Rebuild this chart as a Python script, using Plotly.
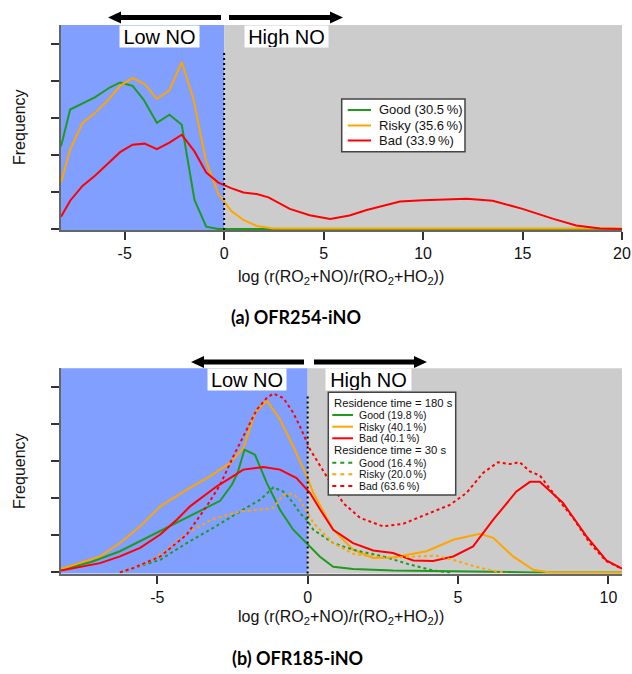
import plotly.graph_objects as go

W, H = 632, 674

# ---------------- data ----------------
# (a) OFR254-iNO
a_good_x = [-8.2, -7.74, -6.5, -5.73, -5.23, -4.6, -4.05, -3.38, -2.75, -2.13, -1.49, -0.9, -0.3, 2.5, 20]
a_good_y = [2.22, 3.22, 3.55, 3.82, 3.95, 3.86, 3.49, 2.86, 3.08, 2.81, 0.78, 0.06, 0.0, 0.0, 0.0]
a_risky_x = [-8.2, -7.74, -7.12, -6.48, -5.81, -5.23, -4.6, -4.0, -3.38, -2.75, -2.13, -1.54, -0.92, -0.29,
             0.35, 0.97, 1.64, 2.46, 20]
a_risky_y = [1.25, 2.14, 2.86, 3.13, 3.49, 3.86, 4.07, 3.91, 3.51, 3.74, 4.5, 3.5, 1.85, 0.94,
             0.49, 0.24, 0.08, 0.01, 0.01]
a_bad_x = [-8.2, -7.74, -7.12, -6.48, -5.81, -5.23, -4.6, -4.0, -3.38, -2.75, -2.13, -1.49, -0.9, -0.29,
           0.35, 0.97, 1.64, 2.23, 3.3, 4.3, 5.33, 6.3, 7.17, 8.84, 10.0, 12.2, 13.5, 15.0, 16.55, 17.7, 18.9, 20]
a_bad_y = [0.33, 0.76, 1.16, 1.44, 1.78, 2.07, 2.27, 2.3, 2.15, 2.33, 2.54, 2.09, 1.52, 1.25,
           1.1, 0.98, 0.94, 0.85, 0.54, 0.37, 0.27, 0.36, 0.51, 0.74, 0.77, 0.81, 0.76, 0.54, 0.27, 0.09, 0.01, 0.0]
a_names = ["Good (30.5\u2009%)", "Risky (35.6\u2009%)", "Bad (33.9\u2009%)"]

# (b) OFR185-iNO, residence time = 180 s (solid)
b180_good_x = [-8.2, -7.2, -6.24, -5.35, -4.47, -4.02, -2.91, -2.52, -2.33, -2.1, -1.75, -1.36, -0.92, -0.48,
               -0.03, 0.41, 0.85, 1.51, 2.84, 4.84, 7.5, 10.45]
b180_good_y = [0.07, 0.28, 0.57, 0.93, 1.29, 1.48, 1.93, 2.36, 2.68, 3.31, 3.17, 2.41, 1.69, 1.15,
               0.79, 0.42, 0.15, 0.09, 0.05, 0.03, 0.0, 0.0]
b180_risky_x = [-8.2, -6.9, -6.24, -5.57, -4.9, -4.02, -3.25, -2.58, -2.14, -1.75, -1.36, -0.92, -0.48, -0.03,
                0.19, 0.85, 1.51, 2.18, 2.84, 3.95, 4.84, 5.72, 6.17, 6.83, 7.5, 8.05, 10.45]
b180_risky_y = [0.09, 0.43, 0.79, 1.24, 1.78, 2.23, 2.59, 2.95, 3.35, 4.3, 4.63, 4.12, 3.4, 2.59,
                2.14, 1.15, 0.61, 0.39, 0.4, 0.57, 0.88, 1.04, 0.93, 0.43, 0.07, 0.0, 0.0]
b180_bad_x = [-8.2, -6.9, -6.24, -5.57, -4.9, -4.35, -3.91, -3.02, -2.58, -2.14, -1.47, -0.92, -0.37, 0.08,
              0.41, 0.85, 1.51, 2.18, 2.84, 3.51, 4.17, 4.84, 5.5, 6.17, 6.94, 7.39, 7.72, 8.49, 9.27, 9.93, 10.45]
b180_bad_y = [0.05, 0.25, 0.43, 0.66, 1.02, 1.42, 1.78, 2.32, 2.54, 2.77, 2.84, 2.77, 2.54, 2.14,
              1.7, 1.15, 0.79, 0.59, 0.52, 0.32, 0.31, 0.43, 0.7, 1.42, 2.18, 2.44, 2.44, 1.87, 0.97, 0.32, 0.1]

# (b) residence time = 30 s (dotted)
b30_good_x = [-6.24, -4.9, -4.02, -3.14, -2.25, -1.58, -1.14, -0.81, -0.48, -0.26, -0.03, 0.19, 0.85, 1.51,
              2.51, 3.4, 4.17, 4.73]
b30_good_y = [0.0, 0.34, 0.79, 1.2, 1.64, 1.96, 2.29, 2.18, 1.87, 1.6, 1.42, 1.15, 0.79, 0.61,
              0.43, 0.21, 0.05, 0.0]
b30_risky_x = [-6.24, -5.35, -4.68, -4.02, -3.14, -2.25, -1.58, -1.14, -0.81, -0.48, -0.26, 0.19, 0.85, 1.51,
               2.51, 3.4, 4.28, 4.95, 5.61, 6.28, 6.6]
b30_risky_y = [0.0, 0.25, 0.61, 1.06, 1.44, 1.64, 1.69, 1.74, 2.09, 2.12, 1.96, 1.33, 0.79, 0.5,
               0.39, 0.43, 0.45, 0.31, 0.15, 0.02, 0.0]
b30_bad_x = [-6.24, -5.79, -4.9, -4.02, -3.36, -2.91, -2.47, -2.03, -1.69, -1.36, -1.14, -0.81, -0.48, -0.26,
             0.08, 0.63, 1.18, 1.74, 2.51, 3.18, 3.95, 4.73, 5.28, 5.83, 6.33, 6.72, 7.05, 7.39, 7.72, 8.16,
             8.82, 9.38, 9.93, 10.45]
b30_bad_y = [0.0, 0.12, 0.43, 1.02, 1.78, 2.36, 3.13, 3.85, 4.39, 4.7, 4.82, 4.7, 4.3, 3.94,
             3.31, 2.59, 1.87, 1.47, 1.24, 1.31, 1.56, 1.82, 2.14, 2.68, 2.97, 2.92, 2.97, 2.72, 2.61, 2.14,
             1.47, 0.79, 0.3, 0.1]
b180_names = ["Good (19.8\u2009%)", "Risky (40.1\u2009%)", "Bad (40.1\u2009%)"]
b30_names = ["Good (16.4\u2009%)", "Risky (20.0\u2009%)", "Bad (63.6\u2009%)"]
b_group_titles = ["Residence time = 180 s", "Residence time = 30 s"]
captions = ["(a) OFR254-iNO", "(b) OFR185-iNO"]

a_xticks = [-5, 0, 5, 10, 15, 20]
b_xticks = [-5, 0, 5, 10]
tick_text = lambda v: [("-" + str(-t)) if t < 0 else str(t) for t in v]
y_ticks = [0, 1, 2, 3, 4, 5]

a_xrange = [-8.2, 20]
b_xrange = [-8.2, 10.45]
y_range = [-0.03, 5.5]

colors = ["#1f9a1f", "#ffa500", "#ff0000"]
BLUE = "#809fff"
GRAY = "#cccccc"
FONT = "Liberation Sans"

# ---------------- helpers ----------------
def px(x):
    return x / W

def py(y):
    return 1 - y / H

fig = go.Figure()

# top traces
for xs, ys, c in zip([a_good_x, a_risky_x, a_bad_x], [a_good_y, a_risky_y, a_bad_y], colors):
    fig.add_trace(go.Scatter(x=xs, y=ys, mode="lines", line=dict(color=c, width=2),
                             xaxis="x", yaxis="y", showlegend=False, hoverinfo="skip"))
# bottom traces
for xs, ys, c in zip([b180_good_x, b180_risky_x, b180_bad_x], [b180_good_y, b180_risky_y, b180_bad_y], colors):
    fig.add_trace(go.Scatter(x=xs, y=ys, mode="lines", line=dict(color=c, width=2),
                             xaxis="x2", yaxis="y2", showlegend=False, hoverinfo="skip"))
for xs, ys, c in zip([b30_good_x, b30_risky_x, b30_bad_x], [b30_good_y, b30_risky_y, b30_bad_y], colors):
    fig.add_trace(go.Scatter(x=xs, y=ys, mode="lines", line=dict(color=c, width=2, dash="3px,3px"),
                             xaxis="x2", yaxis="y2", showlegend=False, hoverinfo="skip"))

axis_font = dict(family=FONT, size=16, color="#111")
common_x = dict(showline=True, linecolor="#666", linewidth=2, ticks="outside", ticklen=8, tickwidth=1.5,
                tickcolor="#333", showgrid=False, zeroline=False, tickfont=axis_font, automargin=False)
common_y = dict(showline=True, linecolor="#666", linewidth=2, ticks="outside", ticklen=8, tickwidth=1.5,
                tickcolor="#333", showgrid=False, zeroline=False, showticklabels=False, automargin=False,
                range=y_range, tickvals=y_ticks)

top_dom = [py(230), py(25)]
bot_dom = [py(573.5), py(368.3)]
xdom = [px(61), px(622)]

fig.update_layout(
    width=W, height=H, margin=dict(l=0, r=0, t=0, b=0),
    paper_bgcolor="white", plot_bgcolor="white",
    font=dict(family=FONT, size=13, color="#111"),
    xaxis=dict(domain=xdom, range=a_xrange, tickvals=a_xticks, ticktext=tick_text(a_xticks),
               anchor="y", **common_x),
    yaxis=dict(domain=top_dom, anchor="x", **common_y),
    xaxis2=dict(domain=xdom, range=b_xrange, tickvals=b_xticks, ticktext=tick_text(b_xticks),
                anchor="y2", **common_x),
    yaxis2=dict(domain=bot_dom, anchor="x2", **common_y),
    showlegend=False,
)

shapes = []
annots = []

# background regions & dotted line
for xr, yr, xmax in [("x", "y domain", a_xrange[1]), ("x2", "y2 domain", b_xrange[1])]:
    shapes.append(dict(type="rect", xref=xr, yref=yr, x0=-8.2, x1=0, y0=0, y1=1,
                       fillcolor=BLUE, line_width=0, layer="below"))
    shapes.append(dict(type="rect", xref=xr, yref=yr, x0=0, x1=xmax, y0=0, y1=1,
                       fillcolor=GRAY, line_width=0, layer="below"))
    shapes.append(dict(type="line", xref=xr, yref=yr, x0=0, x1=0, y0=0, y1=0.87,
                       line=dict(color="black", width=2, dash="2px,3px")))

# arrows
def arrow(x_from, x_tip, y):
    d = 1 if x_tip > x_from else -1
    base = x_tip - d * 13
    shapes.append(dict(type="line", xref="paper", yref="paper", x0=px(x_from), x1=px(base),
                       y0=py(y), y1=py(y), line=dict(color="black", width=5)))
    path = "M {},{} L {},{} L {},{} Z".format(px(x_tip), py(y), px(base), py(y - 6), px(base), py(y + 6))
    shapes.append(dict(type="path", xref="paper", yref="paper", path=path,
                       fillcolor="black", line=dict(color="black", width=0)))

arrow(221, 108, 17.5)
arrow(229, 343, 17.5)
arrow(304, 191, 362)
arrow(314, 427, 362)

def label_box(text, x0, x1, y0, y1):
    annots.append(dict(xref="paper", yref="paper", x=px((x0 + x1) / 2), y=py((y0 + y1) / 2),
                       text=text, showarrow=False, bgcolor="white", borderpad=0,
                       width=x1 - x0, height=y1 - y0, xanchor="center", yanchor="middle",
                       font=dict(family=FONT, size=20, color="black")))

label_box("Low NO", 120, 199, 26, 47)
label_box("High NO", 245, 328, 26, 47)
label_box("Low NO", 208, 286, 369, 390)
label_box("High NO", 326, 411, 369, 390)

# legend (a)
shapes.append(dict(type="rect", xref="paper", yref="paper", x0=px(341.7), x1=px(465), y0=py(99), y1=py(151.7),
                   fillcolor="white", line=dict(color="#444", width=1.5)))
for i, (name, c) in enumerate(zip(a_names, colors)):
    yy = [110, 125.5, 140.5][i]
    shapes.append(dict(type="line", xref="paper", yref="paper", x0=px(347.7), x1=px(371), y0=py(yy), y1=py(yy),
                       line=dict(color=c, width=2)))
    annots.append(dict(xref="paper", yref="paper", x=px(376.5), y=py(yy), text=name, showarrow=False,
                       xanchor="left", yanchor="middle",
                       font=dict(family=FONT, size=13, color="#111")))

# legend (b)
shapes.append(dict(type="rect", xref="paper", yref="paper", x0=px(328.3), x1=px(455.7), y0=py(392.3), y1=py(495),
                   fillcolor="white", line=dict(color="#444", width=1.5)))
title_y = [402.7, 450]
item_y = [[415, 426.7, 438.3], [462.7, 474.3, 486]]
for g, (names, dash) in enumerate([(b180_names, None), (b30_names, "4px,4px")]):
    annots.append(dict(xref="paper", yref="paper", x=px(331.5), y=py(title_y[g]), text=b_group_titles[g],
                       showarrow=False, xanchor="left", yanchor="middle",
                       font=dict(family=FONT, size=11.3, color="#111")))
    for i, (name, c) in enumerate(zip(names, colors)):
        yy = item_y[g][i]
        ln = dict(color=c, width=2)
        if dash:
            ln["dash"] = dash
        shapes.append(dict(type="line", xref="paper", yref="paper", x0=px(332.3), x1=px(353), y0=py(yy), y1=py(yy),
                           line=ln))
        annots.append(dict(xref="paper", yref="paper", x=px(356.5), y=py(yy), text=name, showarrow=False,
                           xanchor="left", yanchor="middle",
                           font=dict(family=FONT, size=10.5, color="#111")))

# axis titles
xtitle = "log (r(RO<sub>2</sub>+NO)/r(RO<sub>2</sub>+HO<sub>2</sub>))"
for yy in [277, 617.5]:
    annots.append(dict(xref="paper", yref="paper", x=px(340.5), y=py(yy), text=xtitle, showarrow=False,
                       xanchor="center", yanchor="middle",
                       font=dict(family=FONT, size=16, color="#111")))
for yy in [127, 471]:
    annots.append(dict(xref="paper", yref="paper", x=px(19), y=py(yy), text="Frequency", showarrow=False,
                       textangle=-90, xanchor="center", yanchor="middle",
                       font=dict(family=FONT, size=16, color="#111")))

# captions
for cap, cx, cy in zip(captions, [295.5, 297], [317, 658]):
    annots.append(dict(xref="paper", yref="paper", x=px(cx), y=py(cy), text=cap,
                       showarrow=False, xanchor="center", yanchor="middle",
                       font=dict(family="Lato", size=18, color="black", weight="bold")))

fig.update_layout(shapes=shapes, annotations=annots)
fig.write_html("out.html")
